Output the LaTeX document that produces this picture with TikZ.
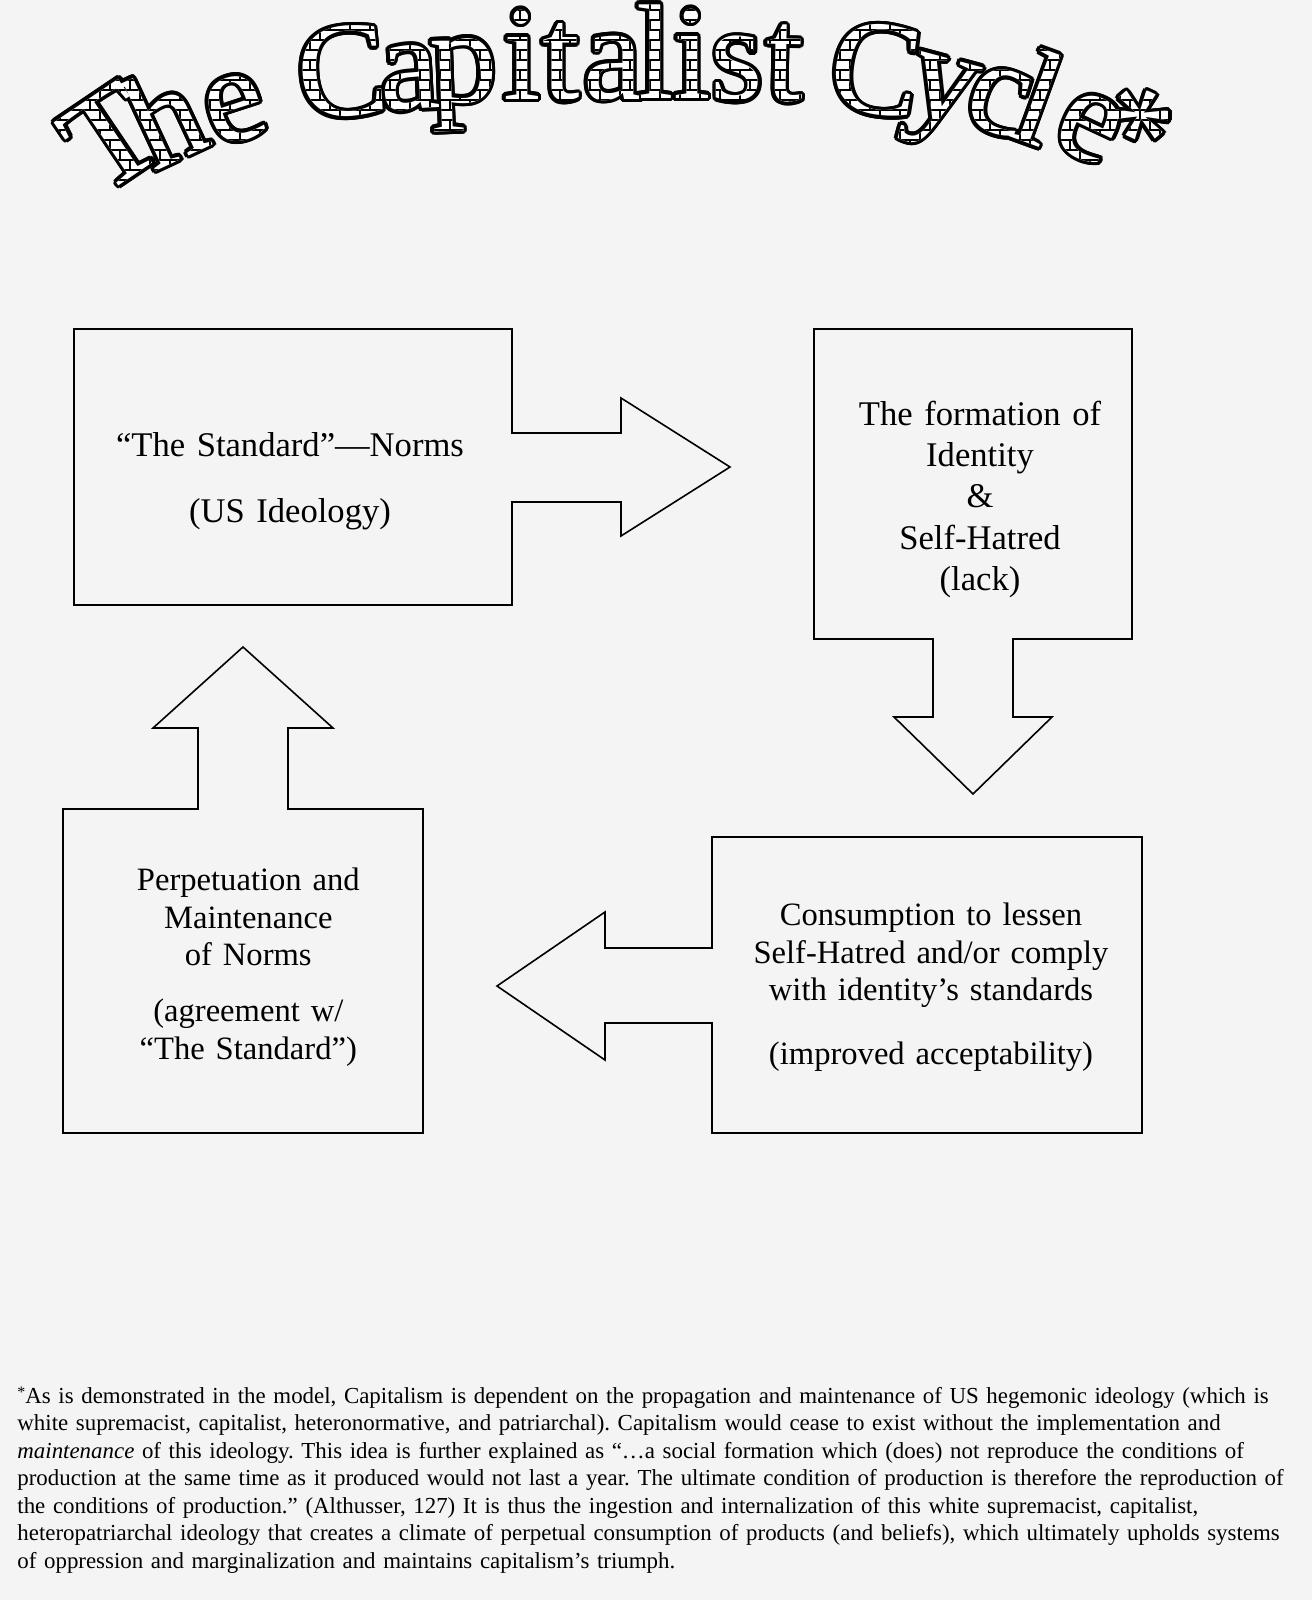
\documentclass[tikz,border=0pt]{standalone}
\usepackage{fontspec}
\setmainfont{Liberation Serif}
\usetikzlibrary{patterns,fadings}

\definecolor{paper}{RGB}{244,244,244}
\newcommand{\titlefont}{\fontsize{67.5}{67.5}\selectfont}

% brick texture for the title letters
\pgfdeclarepatternformonly{titlebricks}{\pgfpoint{-0.5pt}{-0.5pt}}{\pgfpoint{10.5pt}{10.5pt}}{\pgfpoint{10pt}{10pt}}{%
  \pgfsetlinewidth{0.7pt}%
  \pgfpathmoveto{\pgfpoint{0pt}{0pt}}\pgfpathlineto{\pgfpoint{10pt}{0pt}}%
  \pgfpathmoveto{\pgfpoint{0pt}{5pt}}\pgfpathlineto{\pgfpoint{10pt}{5pt}}%
  \pgfpathmoveto{\pgfpoint{0pt}{0pt}}\pgfpathlineto{\pgfpoint{0pt}{5pt}}%
  \pgfpathmoveto{\pgfpoint{5pt}{5pt}}\pgfpathlineto{\pgfpoint{5pt}{10pt}}%
  \pgfusepath{stroke}}

% letter / baseline x / baseline y / rotation
\newcommand{\titleletters}{T/136/174/34, h/184/158/25, e/245/139/18,
  C/346/116/5, a/411/109/3, p/465/102/2, i/522/99/0, t/561/100/0, a/613/99/0,
  l/655/98/0, i/692/98/0, s/737/100/0, t/784/101/-1,
  C/870/113/-8, y/935/119/-15, c/989/131/-18, l/1024/142/-20, e/1076/156/-25, */1114/173/-25}

% mask made of the title letters (same frame as the title band)
\pgfdeclarefading{titlefade}{%
  \begin{pgfpicture}
    \pgfpathrectangle{\pgfpointorigin}{\pgfpoint{656pt}{-100pt}}
    \pgfusepath{use as bounding box}
    \foreach \ch/\px/\py/\ang in \titleletters {
      \pgftext[base,at={\pgfpoint{0.5*\px pt}{-0.5*\py pt}},rotate=\ang]{\color{white}\titlefont\ch}
    }
  \end{pgfpicture}}

\begin{document}
\begin{tikzpicture}[x=0.5pt, y=-0.5pt,
    ttl/.style={anchor=base, inner sep=0pt, font=\titlefont},
    cycleshape/.style={draw, line width=0.8pt, line join=miter},
    boxtext/.style={anchor=base, inner sep=0pt, align=center, font=\fontsize{16.3}{18.8}\selectfont}
]
\useasboundingbox (0,0) rectangle (1312,1600);
\fill[paper] (0,0) rectangle (1312,1600);

% Title: outline, white letters, bricks
\foreach \ch/\px/\py/\ang [count=\i] in \titleletters {
  \foreach \k [count=\j] in {0,22.5,...,337.5}
    \node[ttl, text=black, shift={(\k:1.8pt)}, rotate=\ang] (o\i-\j) at (\px,\py) {\ch};
}
\foreach \ch/\px/\py/\ang [count=\i] in \titleletters
  \node[ttl, text=white, rotate=\ang] (t\i) at (\px,\py) {\ch};
\fill[pattern=titlebricks, path fading=titlefade, fit fading=false,
      fading transform={shift={(656,100)}}] (0,0) rectangle (1312,200);

% "The Standard" with arrow to the right
\draw[cycleshape] (74,329) -- (512,329) -- (512,433) -- (621,433) -- (621,398) -- (730,467)
  -- (621,536) -- (621,502) -- (512,502) -- (512,605) -- (74,605) -- cycle;
\node[boxtext, text width=230pt, font=\fontsize{17.3}{18.8}\selectfont] (standard) at (290,456)
  {“The Standard”—Norms\\[14.55pt](US Ideology)};

% Identity with arrow downwards
\draw[cycleshape] (814,329) -- (1132,329) -- (1132,639) -- (1013,639) -- (1013,717) -- (1052,717)
  -- (973,794) -- (894,717) -- (933,717) -- (933,639) -- (814,639) -- cycle;
\node[boxtext, text width=160pt, font=\fontsize{17.3}{20.7}\selectfont] (identity) at (980,425)
  {The formation of\\Identity\\\&\\Self-Hatred\\(lack)};

% Consumption with arrow to the left
\draw[cycleshape] (712,837) -- (1142,837) -- (1142,1133) -- (712,1133) -- (712,1023) -- (605,1023)
  -- (605,1060) -- (497,986) -- (605,912) -- (605,948) -- (712,948) -- cycle;
\node[boxtext, text width=200pt] (consume) at (931,925.5)
  {Consumption to lessen\\Self-Hatred and/or comply\\with identity’s standards\\[12.9pt](improved acceptability)};

% Perpetuation with arrow upwards
\draw[cycleshape] (63,809) -- (198,809) -- (198,728) -- (153,728) -- (243,647) -- (333,728)
  -- (288,728) -- (288,809) -- (423,809) -- (423,1133) -- (63,1133) -- cycle;
\node[boxtext, text width=170pt] (norms) at (248.3,890.5)
  {Perpetuation and\\Maintenance\\of Norms\\[9.25pt](agreement w/\\“The Standard”)};

% footnote
\node[anchor=base west, inner sep=0pt, text width=650pt, align=left,
      font=\fontsize{11.45}{13.75}\selectfont\frenchspacing] (note) at (17,1403.3)
  {\raisebox{.27em}{\fontsize{8}{8}\selectfont *}As is demonstrated in the model, Capitalism is dependent on the propagation and maintenance of US hegemonic ideology (which is\\
   white supremacist, capitalist, heteronormative, and patriarchal). Capitalism would cease to exist without the implementation and\\
   \textit{maintenance} of this ideology. This idea is further explained as “…a social formation which (does) not reproduce the conditions of\\
   production at the same time as it produced would not last a year. The ultimate condition of production is therefore the reproduction of\\
   the conditions of production.” (Althusser, 127) It is thus the ingestion and internalization of this white supremacist, capitalist,\\
   heteropatriarchal ideology that creates a climate of perpetual consumption of products (and beliefs), which ultimately upholds systems\\
   of oppression and marginalization and maintains capitalism’s triumph.};
\end{tikzpicture}
\end{document}
